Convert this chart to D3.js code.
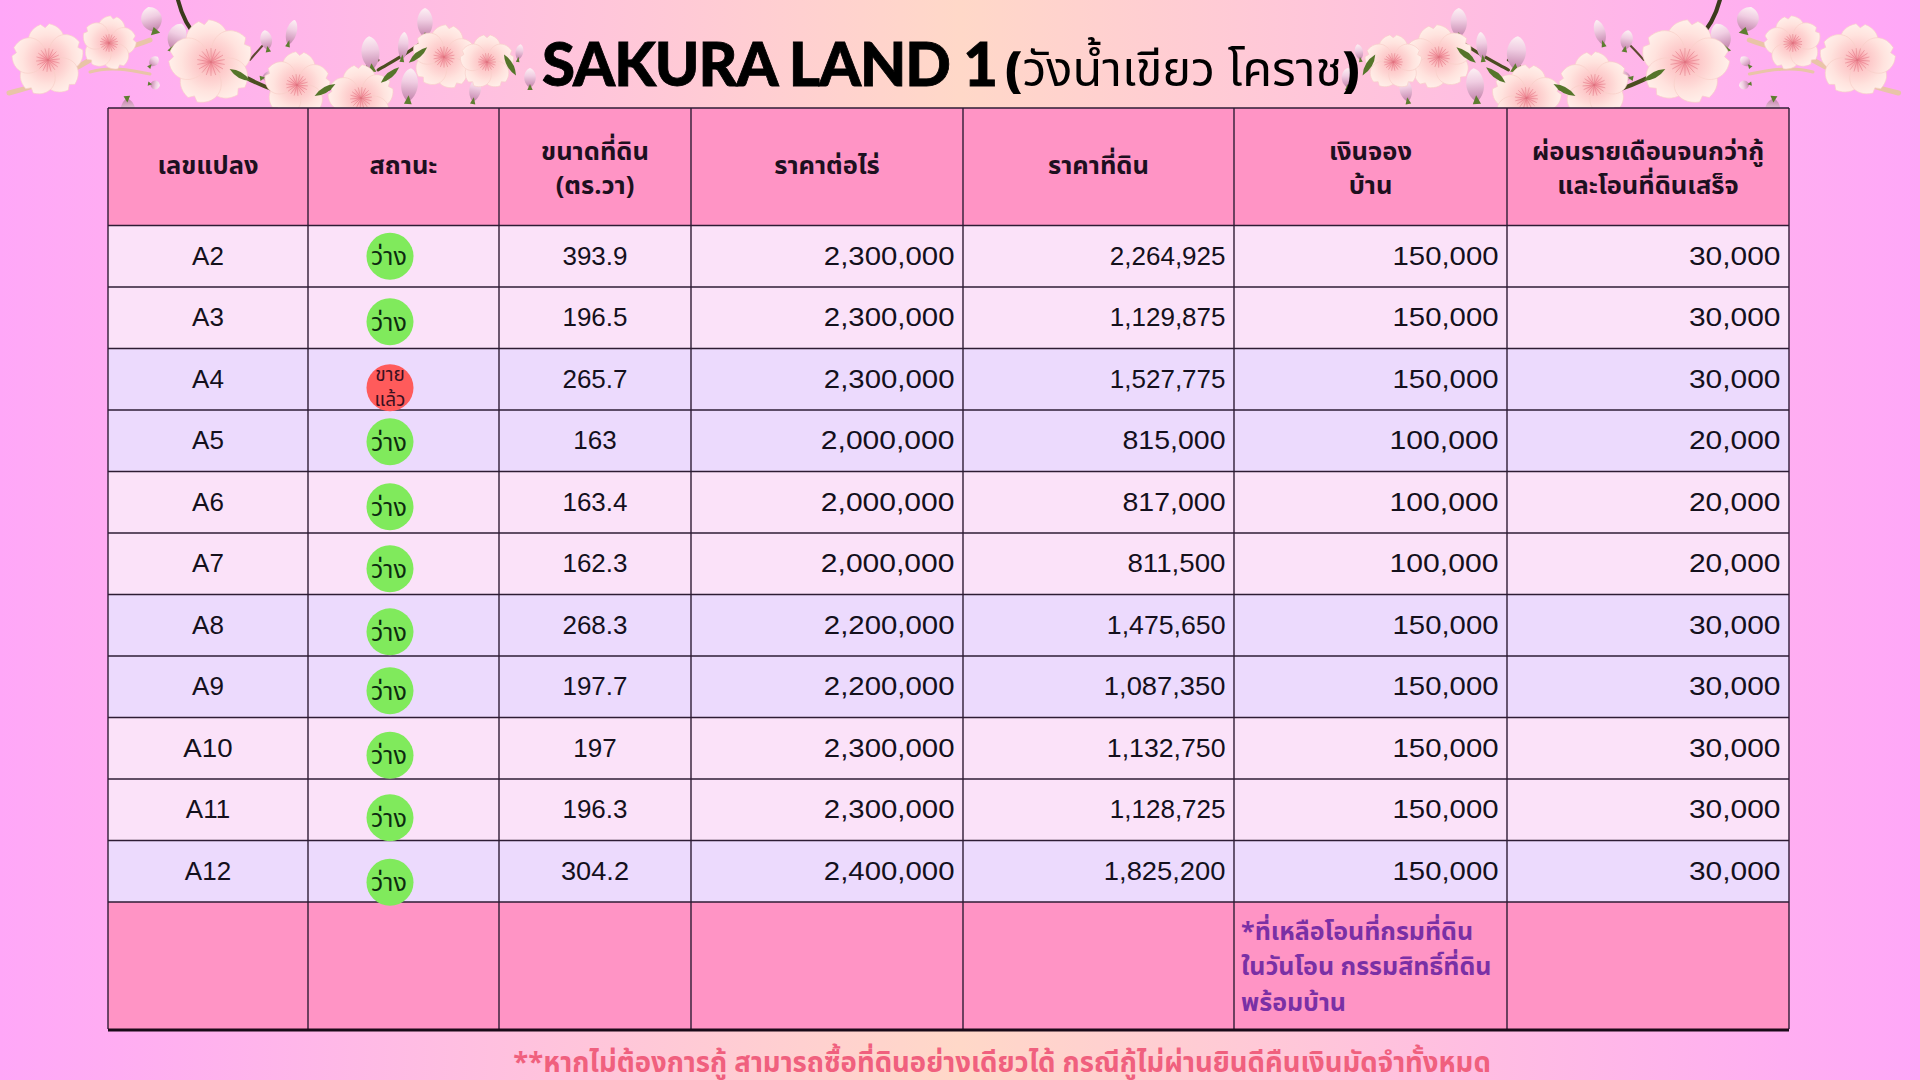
<!DOCTYPE html>
<html lang="th"><head><meta charset="utf-8">
<script src="https://cdn.jsdelivr.net/npm/d3@7/dist/d3.min.js"></script>
<style>
html,body{margin:0;padding:0;width:1920px;height:1080px;overflow:hidden}
svg{display:block}
</style></head><body><svg id="c" width="1920" height="1080"></svg>
<script>
const plots=["A2","A3","A4","A5","A6","A7","A8","A9","A10","A11","A12"];
const status=["ว่าง","ว่าง","ขาย แล้ว","ว่าง","ว่าง","ว่าง","ว่าง","ว่าง","ว่าง","ว่าง","ว่าง"];
const sizes=["393.9","196.5","265.7","163","163.4","162.3","268.3","197.7","197","196.3","304.2"];
const pricePerRai=[2300000,2300000,2300000,2000000,2000000,2000000,2200000,2200000,2300000,2300000,2400000];
const landPrice=[2264925,1129875,1527775,815000,817000,811500,1475650,1087350,1132750,1128725,1825200];
const deposit=[150000,150000,150000,100000,100000,100000,150000,150000,150000,150000,150000];
const monthly=[30000,30000,30000,20000,20000,20000,30000,30000,30000,30000,30000];
const headers=[["เลขแปลง"],["สถานะ"],["ขนาดที่ดิน","(ตร.วา)"],["ราคาต่อไร่"],["ราคาที่ดิน"],["เงินจอง","บ้าน"],["ผ่อนรายเดือนจนกว่ากู้","และโอนที่ดินเสร็จ"]];
const noteLines=["*ที่เหลือโอนที่กรมที่ดิน","ในวันโอน กรรมสิทธิ์ที่ดิน","พร้อมบ้าน"];
const bottomNote="**หากไม่ต้องการกู้ สามารถซื้อที่ดินอย่างเดียวได้ กรณีกู้ไม่ผ่านยินดีคืนเงินมัดจำทั้งหมด";
const titleLatin="SAKURA LAND 1";
const titleThai="วังน้ำเขียว โคราช";

const edges=[108,308,499,691,963,1234,1507,1789];
const badgeNudge=[0,4,8.5,1,4.5,5,6.6,4,7,8,11];
const rowColor=["#fbe2f9","#fbe2f9","#ecdafd","#ecdafd","#fbe2f9","#fbe2f9","#ecdafd","#ecdafd","#fbe2f9","#fbe2f9","#ecdafd"];
const thai='"Noto Sans Thai","Noto Sans","Noto Sans CJK SC",sans-serif';
const svg=d3.select("#c");
const defs=svg.append("defs");
const bg=defs.append("linearGradient").attr("id","bg");
bg.selectAll("stop").data([[0,"#ffa7f8"],[.5,"#ffd8c8"],[1,"#ffa7f8"]]).join("stop").attr("offset",d=>d[0]).attr("stop-color",d=>d[1]);
svg.append("rect").attr("width",1920).attr("height",1080).attr("fill","url(#bg)");

const pet=defs.append("radialGradient").attr("id","pet").attr("gradientUnits","objectBoundingBox").attr("cx",.5).attr("cy",1).attr("r",1);
pet.selectAll("stop").data([[0,"#f88f9c"],[.3,"#fdc7c8"],[.7,"#ffe3de"],[1,"#fff0ea"]]).join("stop").attr("offset",d=>d[0]).attr("stop-color",d=>d[1]);
const bud=defs.append("linearGradient").attr("id","bud").attr("x1",0).attr("y1",1).attr("x2",0).attr("y2",0);
bud.selectAll("stop").data([[0,"#c07fa8"],[.6,"#f0cde2"],[1,"#fdf1f4"]]).join("stop").attr("offset",d=>d[0]).attr("stop-color",d=>d[1]);

function flower(g,x,y,r,rot){
  const f=g.append("g").attr("transform",`translate(${x},${y}) rotate(${rot||0})`);
  d3.range(5).forEach(i=>{
    f.append("path").attr("transform",`rotate(${i*72})`)
     .attr("d",`M0,0C${-r*.66},${-r*.25} ${-r*.62},${-r*.85} ${-r*.12},${-r}L0,${-r*.9}L${r*.12},${-r}C${r*.62},${-r*.85} ${r*.66},${-r*.25} 0,0Z`)
     .attr("fill","url(#pet)").attr("stroke","#f8cfc8").attr("stroke-width",.6);
  });
  d3.range(18).forEach(i=>{
    const a=i*Math.PI/9;
    f.append("line").attr("x1",0).attr("y1",0).attr("x2",Math.cos(a)*r*.33).attr("y2",Math.sin(a)*r*.33).attr("stroke","#e0717f").attr("stroke-width",.7).attr("opacity",.65);
  });
}
function budShape(g,x,y,w,h,rot){
  const b=g.append("g").attr("transform",`translate(${x},${y}) rotate(${rot})`);
  b.append("path").attr("d",`M0,0C${-w},${-h*.3} ${-w*.7},${-h*.9} 0,${-h}C${w*.7},${-h*.9} ${w},${-h*.3} 0,0Z`).attr("fill","url(#bud)");
  b.append("path").attr("d",`M${-w*.3},2L0,${-h*.2}L${w*.3},2Z`).attr("fill","#5d7d2f");
}
function branch(g,d,c,w){g.append("path").attr("d",d).attr("fill","none").attr("stroke",c).attr("stroke-width",w).attr("stroke-linecap","round");}
function blossoms(g){
  branch(g,"M9,93C40,85 60,78 90,60C105,52 125,50 150,40","#e9c4a8",5);
  branch(g,"M90,72C110,66 130,70 150,74","#e9c4a8",3);
  branch(g,"M178,0C182,16 188,28 198,38","#3b3a1c",4);
  branch(g,"M233,70C245,78 258,84 274,90","#4b4d20",4);
  branch(g,"M318,93C345,85 360,70 378,60","#4b4d20",3);
  branch(g,"M378,70C395,60 410,52 422,42","#4b4d20",3);
  branch(g,"M250,60C258,50 264,44 270,38","#5d4a30",2);
  budShape(g,127,98,11,22,175);
  budShape(g,155,32,16,26,-15);
  budShape(g,172,50,14,28,20);
  budShape(g,150,66,7,12,40);
  budShape(g,150,84,7,10,100);
  budShape(g,268,50,9,20,-10);
  budShape(g,288,45,8,26,15);
  budShape(g,372,70,14,34,-5);
  budShape(g,402,60,8,28,5);
  budShape(g,425,38,12,30,0);
  budShape(g,408,102,13,34,5);
  budShape(g,262,78,9,16,80);
  budShape(g,473,102,9,24,10);
  budShape(g,530,88,9,20,0);
  budShape(g,518,60,6,16,10);
  flower(g,48,60,36,-5);
  flower(g,109,43,27,10);
  flower(g,211,62,42,-10);
  flower(g,297,85,33,5);
  flower(g,361,98,33,-5);
  flower(g,444,57,32,10);
  flower(g,487,62,27,0);
  g.selectAll("path.leaf").data([[240,75,30],[325,90,-30],[390,75,-40],[418,55,-40],[510,65,60]]).join("path").attr("class","leaf")
   .attr("transform",d=>`translate(${d[0]},${d[1]}) rotate(${d[2]})`).attr("d","M-12,0Q0,-6 12,0Q0,6 -12,0Z").attr("fill","#55752a");
}
blossoms(svg.append("g"));
blossoms(svg.append("g").attr("transform","translate(1908,0) scale(-1.057,1)"));

// title
const t=svg.append("text").attr("x",542).attr("y",86).attr("fill","#000");
t.append("tspan").attr("font-family",'"Lato","Noto Sans",sans-serif').attr("font-weight",900).attr("font-size",60).attr("stroke","#000").attr("stroke-width",.8).attr("textLength",456).text(titleLatin);
t.append("tspan").attr("dx",8).attr("font-family",thai).attr("font-size",48.6).attr("font-weight",900).text("(");
t.append("tspan").attr("font-family",thai).attr("font-size",48.6).attr("font-weight",400).text(titleThai);
t.append("tspan").attr("font-family",thai).attr("font-size",48.6).attr("font-weight",900).text(")");

// table
const top0=108,headH=117.5,rowH=61.5;
const y=d3.scaleBand().domain(d3.range(plots.length)).range([top0+headH,top0+headH+rowH*plots.length]);
const table=svg.append("g");
const footTop=y.range()[1],footBot=1029;
table.append("rect").attr("x",edges[0]).attr("y",top0).attr("width",edges[7]-edges[0]).attr("height",headH).attr("fill","#ff94c5");
table.selectAll("rect.row").data(plots).join("rect").attr("class","row").attr("x",edges[0]).attr("y",(d,i)=>y(i)).attr("width",edges[7]-edges[0]).attr("height",y.bandwidth()).attr("fill",(d,i)=>rowColor[i]);
table.append("rect").attr("x",edges[0]).attr("y",footTop).attr("width",edges[7]-edges[0]).attr("height",footBot-footTop).attr("fill","#ff94c5");
const lineC="#2e1c34";
table.selectAll("line.v").data(edges).join("line").attr("class","v").attr("x1",d=>d).attr("x2",d=>d).attr("y1",top0).attr("y2",footBot).attr("stroke",lineC).attr("stroke-width",1.4);
table.selectAll("line.h").data([top0,...y.domain().map(i=>y(i)),footTop]).join("line").attr("class","h").attr("x1",edges[0]).attr("x2",edges[7]).attr("y1",d=>d).attr("y2",d=>d).attr("stroke",lineC).attr("stroke-width",1.4);
table.append("line").attr("x1",edges[0]).attr("x2",edges[7]).attr("y1",1030).attr("y2",1030).attr("stroke","#1a0a18").attr("stroke-width",3);

// headers
headers.forEach((ls,c)=>{
  const cx=(edges[c]+edges[c+1])/2, cy=top0+headH/2+(ls.length>1?1.5:-1.5);
  ls.forEach((s,i)=>table.append("text").attr("x",cx).attr("y",cy+(i-(ls.length-1)/2)*34.3).attr("dy",".35em").attr("text-anchor","middle")
    .attr("font-family",thai).attr("font-weight",700).attr("font-size",25.5).attr("fill","#1d1020").text(s));
});
const fmt=d3.format(",");
function col(vals,c,anchor,format){
  table.selectAll(null).data(vals).join("text")
   .attr("x",anchor==="middle"?(edges[c]+edges[c+1])/2:edges[c+1]-8.5)
   .attr("y",(d,i)=>y(i)+y.bandwidth()/2-.5).attr("dy",".35em").attr("text-anchor",anchor)
   .attr("font-family",'"Liberation Sans",Arial,sans-serif').attr("font-size",26).attr("fill","#14101c")
   .text(format?fmt:d=>d)
   .each(function(){
     const s=this.textContent, zeros=(s.match(/0/g)||[]).length;
     if(zeros) d3.select(this).attr("textLength",this.getComputedTextLength()+3*zeros).attr("lengthAdjust","spacingAndGlyphs");
   });
}
col(plots,0,"middle");col(sizes,2,"middle");col(pricePerRai,3,"end",1);col(landPrice,4,"end",1);col(deposit,5,"end",1);col(monthly,6,"end",1);
// status badges
status.forEach((s,i)=>{
  const cy=y(i)+y.bandwidth()/2+badgeNudge[i],cx=390,sold=s.includes(" ");
  table.append("circle").attr("cx",cx).attr("cy",cy).attr("r",23.5).attr("fill",sold?"#ff5b5b":"#80ea5c");
  s.split(" ").forEach((p,j,a)=>table.append("text").attr("x",cx-(sold?0:1)).attr("y",cy+(j-(a.length-1)/2)*25.5+(sold?-1:0)).attr("dy",".35em").attr("text-anchor","middle")
    .attr("font-family",thai).attr("font-size",sold?19:25).attr("fill",sold?"#3a1020":"#0d2a10").text(p));
});
// notes
noteLines.forEach((s,i)=>table.append("text").attr("x",1241).attr("y",931+i*35.5).attr("dy",".35em").attr("font-family",thai).attr("font-weight",700).attr("font-size",25).attr("fill","#7a30a5").text(s));
svg.append("text").attr("x",1002).attr("y",1062).attr("dy",".35em").attr("text-anchor","middle").attr("font-family",thai).attr("font-weight",700).attr("font-size",27.5).attr("fill","#f0607e").text(bottomNote);
</script></body></html>
